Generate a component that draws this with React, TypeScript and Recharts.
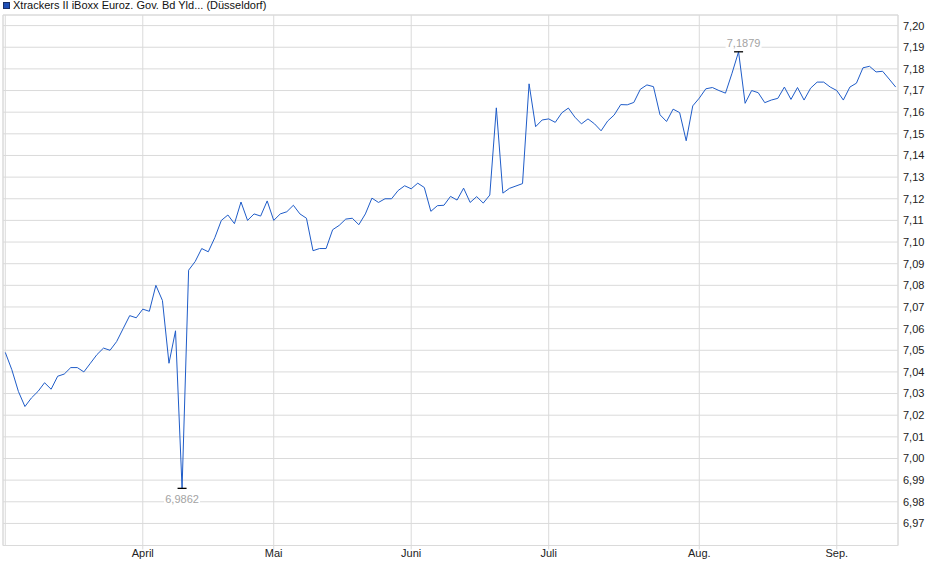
import React from 'react';
import { ComposedChart, Line, XAxis, YAxis, CartesianGrid, ReferenceDot, ReferenceLine } from 'recharts';

const seriesName = 'Xtrackers II iBoxx Euroz. Gov. Bd Yld... (Düsseldorf)';

const monthLabels = ['April', 'Mai', 'Juni', 'Juli', 'Aug.', 'Sep.'];
const monthStartIndex = [21, 41, 62, 83, 106, 127];

const yTicks = [
  6.97, 6.98, 6.99, 7.0, 7.01, 7.02, 7.03, 7.04, 7.05, 7.06, 7.07, 7.08,
  7.09, 7.1, 7.11, 7.12, 7.13, 7.14, 7.15, 7.16, 7.17, 7.18, 7.19, 7.2,
];

const yieldValues = [
  7.049, 7.041, 7.031, 7.024, 7.028, 7.031, 7.035, 7.032, 7.038, 7.039,
  7.042, 7.042, 7.040, 7.044, 7.048, 7.051, 7.050, 7.054, 7.060, 7.066,
  7.065, 7.069, 7.068, 7.080, 7.073, 7.044, 7.059, 6.9862, 7.087, 7.091,
  7.097, 7.0955, 7.102, 7.110, 7.1125, 7.1085, 7.1185, 7.110, 7.113, 7.112,
  7.119, 7.110, 7.113, 7.114, 7.117, 7.113, 7.111, 7.096, 7.097, 7.097,
  7.1057, 7.1077, 7.1106, 7.111, 7.108, 7.113, 7.1203, 7.1183, 7.120, 7.120,
  7.1238, 7.126, 7.1246, 7.1272, 7.1252, 7.1142, 7.1168, 7.117, 7.1211, 7.1194,
  7.1249, 7.1183, 7.121, 7.118, 7.1217, 7.162, 7.1226, 7.1248, 7.1259, 7.127,
  7.1731, 7.1533, 7.1564, 7.1569, 7.1553, 7.1597, 7.1619, 7.1577, 7.1546, 7.1569,
  7.1546, 7.1514, 7.1559, 7.1587, 7.1635, 7.1634, 7.1645, 7.1706, 7.1726, 7.1718,
  7.1588, 7.1557, 7.1614, 7.1598, 7.1468, 7.1629, 7.1665, 7.1708, 7.1714, 7.170,
  7.1688, 7.178, 7.1879, 7.1641, 7.170, 7.169, 7.1644, 7.1656, 7.1664, 7.1716,
  7.1659, 7.1714, 7.1656, 7.1711, 7.1739, 7.1739, 7.1716, 7.170, 7.1656, 7.1716,
  7.1734, 7.1805, 7.1812, 7.1786, 7.1789, 7.1753, 7.1716,
];

const FONT = '"Liberation Sans", Arial, sans-serif';
const GRID = '#dadada';
const LINE = '#1f5cc8';

const data = yieldValues.map((v, i) => ({ i, v }));

let maxIdx = 0;
let minIdx = 0;
yieldValues.forEach((v, i) => {
  if (v > yieldValues[maxIdx]) maxIdx = i;
  if (v < yieldValues[minIdx]) minIdx = i;
});

const fmt = (v: number, d: number) => v.toFixed(d).replace('.', ',');

const X_DOMAIN: [number, number] = [-0.35, yieldValues.length - 1 + 0.35];
const Y_DOMAIN: [number, number] = [6.9598, 7.2049];

const MarkerLabel = (props: any) => {
  const { cx, cy, text, above } = props;
  const tx = above ? cx + 5 : cx;
  const ty = above ? cy - 5 : cy + 14.5;
  return (
    <g>
      <rect x={tx - 18} y={ty - 9.5} width={36} height={12} fill="#ffffff" />
      <line x1={cx - 4.5} x2={cx + 4.5} y1={cy} y2={cy} stroke="#000" strokeWidth={1.3} />
      <text x={tx} y={ty} textAnchor="middle" fontSize={11} fontFamily={FONT} fill="#a3a3a3">
        {text}
      </text>
    </g>
  );
};

export default function App() {
  return (
    <div style={{ position: 'absolute', left: 0, top: 0, width: 940, height: 579, background: '#fff' }}>
      <div
        style={{
          position: 'absolute',
          left: 3,
          top: 2,
          width: 7,
          height: 7,
          background: '#1f4fb6',
          border: '1px solid #1a2f66',
          boxSizing: 'border-box',
        }}
      />
      <div
        style={{
          position: 'absolute',
          left: 13,
          top: -1,
          fontFamily: FONT,
          fontSize: 11,
          lineHeight: '13px',
          color: '#111',
          whiteSpace: 'nowrap',
        }}
      >
        {seriesName}
      </div>
      <ComposedChart
        width={940}
        height={579}
        data={data}
        margin={{ top: 15, right: 0, bottom: 3.5, left: 3 }}
      >
        <CartesianGrid stroke={GRID} strokeWidth={1} horizontal vertical />
        <XAxis
          dataKey="i"
          type="number"
          domain={X_DOMAIN}
          allowDataOverflow
          ticks={monthStartIndex}
          tickFormatter={(v: number) => monthLabels[monthStartIndex.indexOf(v)] ?? ''}
          height={30}
          axisLine={{ stroke: GRID }}
          tickLine={{ stroke: GRID }}
          tickSize={4}
          tickMargin={0}
          tick={{ fill: '#222', fontSize: 11, fontFamily: FONT }}
          interval={0}
        />
        <YAxis
          orientation="right"
          type="number"
          domain={Y_DOMAIN}
          allowDataOverflow
          ticks={yTicks}
          tickFormatter={(v: number) => fmt(v, 2)}
          width={42}
          axisLine={{ stroke: GRID }}
          tickLine={false}
          tickSize={0}
          tickMargin={5}
          tick={{ fill: '#222', fontSize: 11, fontFamily: FONT }}
          interval={0}
        />
        <ReferenceLine x={X_DOMAIN[0]} stroke={GRID} ifOverflow="visible" />
        <ReferenceLine x={0} stroke={GRID} ifOverflow="visible" />
        <ReferenceLine y={Y_DOMAIN[1]} stroke={GRID} ifOverflow="visible" />
        <Line
          type="linear"
          dataKey="v"
          stroke={LINE}
          strokeWidth={1}
          dot={false}
          activeDot={false}
          isAnimationActive={false}
        />
        <ReferenceDot
          x={maxIdx}
          y={yieldValues[maxIdx]}
          ifOverflow="visible"
          shape={(p: any) => <MarkerLabel {...p} text={fmt(yieldValues[maxIdx], 4)} above />}
        />
        <ReferenceDot
          x={minIdx}
          y={yieldValues[minIdx]}
          ifOverflow="visible"
          shape={(p: any) => <MarkerLabel {...p} text={fmt(yieldValues[minIdx], 4)} />}
        />
      </ComposedChart>
    </div>
  );
}
